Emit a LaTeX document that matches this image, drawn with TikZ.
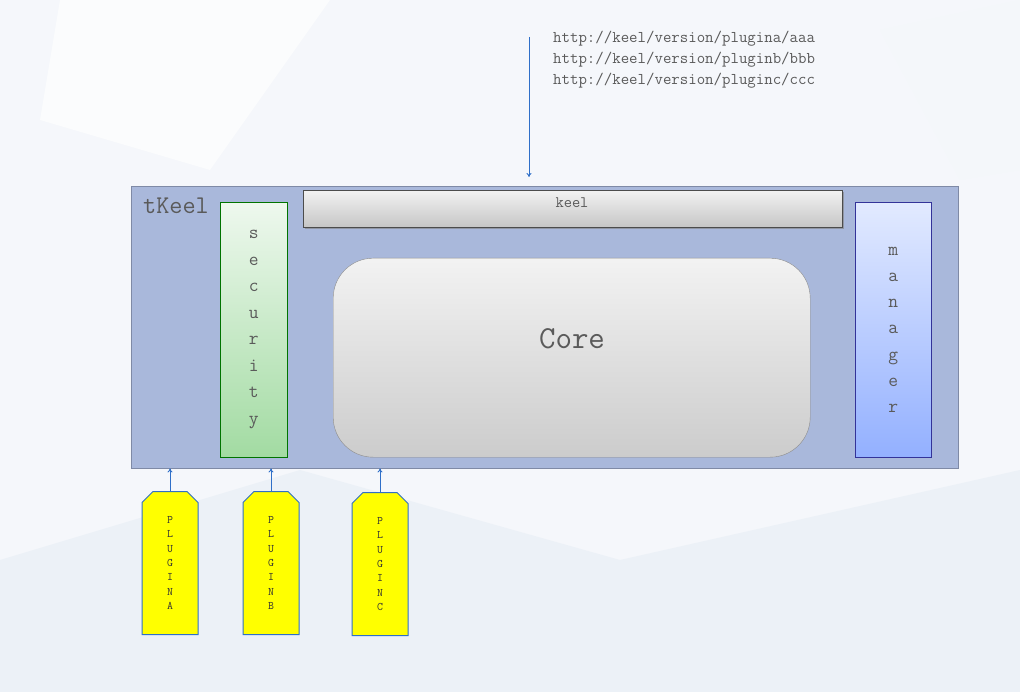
\documentclass[tikz,border=0pt]{standalone}
\usepackage{fontspec}
\setmainfont{Liberation Serif}
\usepackage{tikz}
\usetikzlibrary{shapes,arrows,positioning,calc,arrows.meta,shadows,backgrounds}

\definecolor{pagebg}{HTML}{F5F7FB}
\definecolor{facet}{HTML}{ECF1F7}
\definecolor{frame}{HTML}{A9B8DB}
\definecolor{frameline}{HTML}{7F8AA6}
\definecolor{txtgray}{HTML}{5A5A5A}
\definecolor{linkblue}{HTML}{2F6FC8}
\definecolor{sectop}{HTML}{EEF8EE}
\definecolor{secbot}{HTML}{A2DBA2}
\definecolor{mgrtop}{HTML}{E2EAFF}
\definecolor{mgrbot}{HTML}{93B0FF}
\definecolor{plugfill}{HTML}{FFFF00}

\tikzset{
  outerbox/.style={draw=frameline, fill=frame, inner sep=0pt, anchor=north west},
  barbox/.style={draw=black!70, top color=gray!10, bottom color=gray!45, inner sep=0pt, anchor=north west,
    drop shadow={shadow xshift=1.5pt, shadow yshift=-1.5pt, opacity=0.6}},
  secbox/.style={draw=green!45!black, top color=sectop, bottom color=secbot, inner sep=0pt, anchor=north west,
    font=\ttfamily\fontsize{19}{26.5}\selectfont, text=txtgray, align=center},
  mgrbox/.style={draw=blue!50!black!80, top color=mgrtop, bottom color=mgrbot, inner sep=0pt, anchor=north west,
    font=\ttfamily\fontsize{19}{26.2}\selectfont, text=txtgray, align=center},
  corebox/.style={draw=gray!90, rounded corners=40pt, top color=gray!10, bottom color=gray!40, inner sep=0pt, anchor=north west},
  plugbox/.style={chamfered rectangle, chamfered rectangle corners={north west,north east},
    chamfered rectangle xsep=8pt, draw=linkblue, line width=1pt, fill=plugfill, inner sep=0pt, anchor=north,
    minimum width=56pt, minimum height=143pt, text=black!80,
    font=\ttfamily\fontsize{11.5}{14.3}\selectfont, align=center},
  lbl/.style={font=\ttfamily, text=txtgray, inner sep=0pt},
  flow/.style={-{To[length=4pt,width=5pt]}, draw=linkblue, line width=0.9pt}
}

\begin{document}
\begin{tikzpicture}[x=1pt,y=-1pt]
  % page and background facets
  \fill[pagebg] (0,0) rectangle (1020,692);
  \fill[facet] (0,560) -- (300,470) -- (620,560) -- (1020,470) -- (1020,692) -- (0,692) -- cycle;
  \fill[white!60!pagebg] (60,0) -- (330,0) -- (210,170) -- (40,120) -- cycle;
  \fill[facet!60] (880,30) -- (1020,0) -- (1020,170) -- (960,180) -- cycle;

  % main frame
  \node[outerbox, minimum width=827pt, minimum height=282pt] (tkeel) at (131,186) {};
  \node[lbl, anchor=base west, font=\ttfamily\fontsize{25.5}{28}\selectfont] (title) at (143,214) {tKeel};

  \node[barbox, minimum width=539pt, minimum height=37pt] (keel) at (303,190) {};
  \node[lbl, font=\ttfamily\fontsize{16}{18}\selectfont] (keeltxt) at (572,203) {keel};

  \node[secbox, minimum width=67pt, minimum height=255pt] (sec) at (220,202) {s\\e\\c\\u\\r\\i\\t\\y};
  \node[mgrbox, minimum width=76pt, minimum height=255pt] (mgr) at (855,202) {m\\a\\n\\a\\g\\e\\r};

  \node[corebox, minimum width=477pt, minimum height=199pt] (core) at (333,258) {};
  \node[lbl, font=\ttfamily\fontsize{32}{34}\selectfont] (coretxt) at (572,339) {Core};

  % urls
  \node[lbl, anchor=base west, font=\ttfamily\fontsize{16.4}{18}\selectfont] (url1) at (553,43) {http://keel/version/plugina/aaa};
  \node[lbl, anchor=base west, font=\ttfamily\fontsize{16.4}{18}\selectfont] (url2) at (553,64) {http://keel/version/pluginb/bbb};
  \node[lbl, anchor=base west, font=\ttfamily\fontsize{16.4}{18}\selectfont] (url3) at (553,85) {http://keel/version/pluginc/ccc};
  \coordinate (req) at (529,37);
  \draw[flow, shorten >=9pt] (req) -- (req |- tkeel.north);

  % plugins
  \node[plugbox] (pa) at (170,491) {P\\L\\U\\G\\I\\N\\A};
  \node[plugbox] (pb) at (271,491) {P\\L\\U\\G\\I\\N\\B};
  \node[plugbox] (pc) at (380,492) {P\\L\\U\\G\\I\\N\\C};
  \draw[flow] (pa.north) -- (pa.north |- tkeel.south);
  \draw[flow] (pb.north) -- (pb.north |- tkeel.south);
  \draw[flow] (pc.north) -- (pc.north |- tkeel.south);
\end{tikzpicture}
\end{document}
